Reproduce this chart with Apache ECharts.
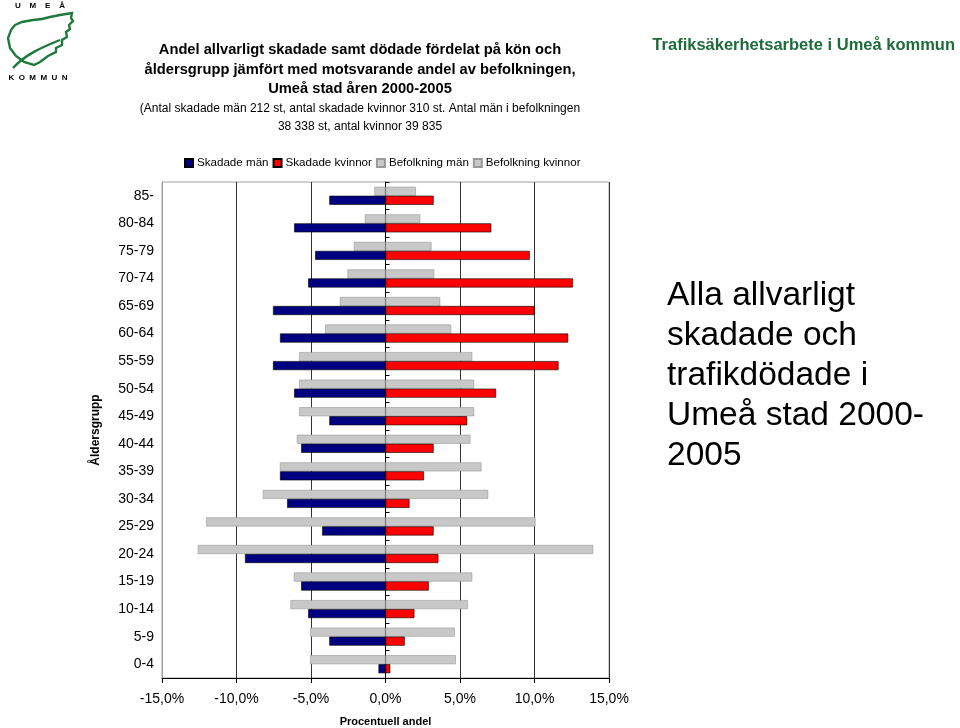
<!DOCTYPE html>
<html>
<head>
<meta charset="utf-8">
<title>Andel allvarligt skadade</title>
<script src="https://cdn.jsdelivr.net/npm/echarts@6/dist/echarts.min.js"></script>
<style>
  html, body { margin: 0; padding: 0; background: #fff; }
  #chart { width: 960px; height: 728px; }
</style>
</head>
<body>
<div id="chart"></div>
<script>
  // åldersgrupper, nedifrån och upp
  var aldersgrupper = ['0-4', '5-9', '10-14', '15-19', '20-24', '25-29', '30-34', '35-39', '40-44',
    '45-49', '50-54', '55-59', '60-64', '65-69', '70-74', '75-79', '80-84', '85-'];

  // procent per åldersgrupp
  var skadadeMan = [0.47, 3.77, 5.19, 5.66, 9.43, 4.25, 6.60, 7.08, 5.66,
    3.77, 6.13, 7.55, 7.08, 7.55, 5.19, 4.72, 6.13, 3.77];
  var skadadeKvinnor = [0.32, 1.29, 1.94, 2.90, 3.55, 3.23, 1.61, 2.58, 3.23,
    5.48, 7.42, 11.61, 12.26, 10.00, 12.58, 9.68, 7.10, 3.23];
  var befolkningMan = [5.06, 5.06, 6.38, 6.15, 12.60, 12.04, 8.23, 7.09, 5.95,
    5.80, 5.80, 5.80, 4.05, 3.06, 2.55, 2.12, 1.39, 0.74];
  var befolkningKvinnor = [4.72, 4.65, 5.53, 5.82, 13.94, 10.07, 6.89, 6.44, 5.70,
    5.95, 5.95, 5.82, 4.41, 3.67, 3.27, 3.09, 2.33, 2.04];

  var xTicks = [-15, -10, -5, 0, 5, 10, 15];

  var font = '"Liberation Sans", Arial, sans-serif';

  function neg(arr) {
    return arr.map(function (v) { return -v; });
  }

  function procent(v) {
    return v.toFixed(1).replace('.', ',') + '%';
  }

  function rubrik(text, x, y, f, color, align) {
    return {
      type: 'text', x: x, y: y, z: 10,
      style: { text: text, font: f, fill: color || '#000', textAlign: align || 'center', textVerticalAlign: 'middle' }
    };
  }

  var chart = echarts.init(document.getElementById('chart'), null, { renderer: 'canvas' });

  var gra = { color: '#c8c8c8', borderColor: '#999', borderWidth: 0.6 };

  var option = {
    backgroundColor: '#fff',
    animation: false,
    textStyle: { fontFamily: font },
    legend: {
      left: 179,
      top: 152,
      itemWidth: 8,
      itemHeight: 8,
      itemGap: 4,
      icon: 'rect',
      textStyle: { fontSize: 11.6, color: '#000', fontFamily: font, padding: [0, 0, 0, -1] },
      data: ['Skadade män', 'Skadade kvinnor', 'Befolkning män', 'Befolkning kvinnor']
    },
    grid: {
      left: 162,
      right: 351,
      top: 182,
      bottom: 50,
      outerBoundsMode: 'none',
      show: true,
      borderColor: '#a0a0a0',
      borderWidth: 1
    },
    xAxis: {
      type: 'value',
      min: xTicks[0],
      max: xTicks[xTicks.length - 1],
      interval: 5,
      name: 'Procentuell andel',
      nameLocation: 'middle',
      nameGap: 38,
      nameTextStyle: { fontSize: 11, fontWeight: 'bold', color: '#000', fontFamily: font },
      axisLine: { show: true, lineStyle: { color: '#000', width: 1 } },
      axisTick: { show: true, length: 5, lineStyle: { color: '#000' } },
      axisLabel: {
        fontSize: 14, color: '#000', margin: 14, fontFamily: font,
        formatter: procent
      },
      splitLine: { show: true, lineStyle: { color: '#333', width: 1 } }
    },
    yAxis: [{
      type: 'category',
      data: aldersgrupper,
      name: 'Åldersgrupp',
      nameLocation: 'middle',
      nameGap: 60,
      nameRotate: 90,
      nameTextStyle: { fontSize: 12, fontWeight: 'bold', color: '#000', fontFamily: font },
      axisLine: { show: true, onZero: false, lineStyle: { color: '#a0a0a0' } },
      axisTick: { show: false },
      axisLabel: { fontSize: 14, color: '#000', margin: 8, fontFamily: font }
    }, {
      type: 'category',
      data: aldersgrupper,
      position: 'left',
      axisLine: { show: true, onZero: true, lineStyle: { color: '#000' } },
      axisTick: { show: true, inside: true, length: 4, lineStyle: { color: '#000' } },
      axisLabel: { show: false },
      splitLine: { show: false }
    }],
    // befolkning först så att de grå staplarna hamnar överst i varje grupp
    series: [{
      name: 'Befolkning män',
      type: 'bar',
      stack: 'befolkning',
      data: neg(befolkningMan),
      barWidth: 9,
      barGap: '0%',
      itemStyle: gra
    }, {
      name: 'Befolkning kvinnor',
      type: 'bar',
      stack: 'befolkning',
      data: befolkningKvinnor,
      barWidth: 9,
      barGap: '0%',
      itemStyle: gra
    }, {
      name: 'Skadade män',
      type: 'bar',
      stack: 'skadade',
      data: neg(skadadeMan),
      barWidth: 9,
      barGap: '0%',
      itemStyle: { color: '#000080', borderColor: '#000', borderWidth: 0.6 }
    }, {
      name: 'Skadade kvinnor',
      type: 'bar',
      stack: 'skadade',
      data: skadadeKvinnor,
      barWidth: 9,
      barGap: '0%',
      itemStyle: { color: '#ff0000', borderColor: '#000', borderWidth: 0.6 }
    }],
    graphic: [
      // titel
      rubrik('Andel allvarligt skadade samt dödade fördelat på kön och', 360, 50, 'bold 14.7px ' + font),
      rubrik('åldersgrupp jämfört med motsvarande andel av befolkningen,', 360, 70, 'bold 14.7px ' + font),
      rubrik('Umeå stad åren 2000-2005', 360, 89, 'bold 14.7px ' + font),
      rubrik('(Antal skadade män 212 st, antal skadade kvinnor 310 st. Antal män i befolkningen', 360, 109, '12px ' + font),
      rubrik('38 338 st, antal kvinnor 39 835', 360, 127, '12px ' + font),
      // rubrik höger
      rubrik('Trafiksäkerhetsarbete i Umeå kommun', 955, 45, 'bold 16.5px ' + font, '#1e6b3c', 'right'),
      // text höger
      {
        type: 'text', x: 667, y: 276, z: 10,
        style: { text: 'Alla allvarligt\nskadade och\ntrafikdödade i\nUmeå stad 2000-\n2005', font: '33.5px ' + font, fill: '#000', lineHeight: 40 }
      },
      // logga
      rubrik('U    M    E    Å', 40, 6, 'bold 8px ' + font),
      rubrik('K  O  M  M  U  N', 38, 78, 'bold 8px ' + font),
      {
        type: 'polygon', z: 10,
        shape: {
          points: [[15, 25], [22, 22], [33, 20], [42, 19], [50, 17], [60, 15], [72, 13], [71, 18], [73, 21],
            [69, 25], [70, 29], [66, 32], [67, 37], [62, 40], [62, 45], [56, 48], [56, 52], [48, 56], [40, 62],
            [34, 65], [24, 62], [16, 56], [10, 48], [8, 38], [11, 30]]
        },
        style: { fill: '#fff', stroke: '#1e7a3c', lineWidth: 2.4 }
      },
      {
        type: 'bezierCurve', z: 11,
        shape: { x1: 13, y1: 68, cpx1: 25, cpy1: 55, cpx2: 40, cpy2: 48, x2: 60, y2: 40 },
        style: { fill: 'none', stroke: '#1e7a3c', lineWidth: 2.4 }
      }
    ]
  };

  chart.setOption(option);
</script>
</body>
</html>
